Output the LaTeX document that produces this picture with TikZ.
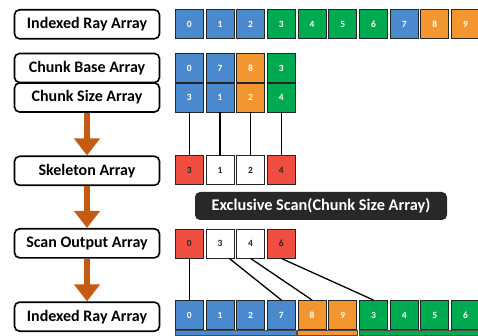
\documentclass[tikz,border=0pt]{standalone}
\usepackage{fontspec}
\setmainfont{Carlito}
\usetikzlibrary{arrows.meta,calc}
\definecolor{cblue}{RGB}{74,137,205}
\definecolor{cgreen}{RGB}{0,170,80}
\definecolor{corange}{RGB}{244,150,48}
\definecolor{cred}{RGB}{240,78,66}
\definecolor{carrow}{RGB}{197,90,17}
\definecolor{cdark}{RGB}{40,40,40}
\begin{document}
\begin{tikzpicture}[x=1pt,y=-1pt,
  cell/.style={draw=black!85, line width=0.9pt, minimum width=28pt, minimum height=29pt, inner sep=0pt, font=\bfseries\fontsize{9.5}{10}\selectfont, text=white},
  lab/.style={draw=black, line width=1.6pt, rounded corners=5pt, minimum width=145pt, minimum height=29pt, inner sep=0pt, font=\bfseries\fontsize{16}{18}\selectfont},
  link/.style={draw=black, line width=1.3pt},
  flow/.style={draw=carrow, line width=6pt, -{Triangle[width=25pt,length=17pt]}},
  bar/.style={draw=black!70, line width=0.6pt}]
\useasboundingbox (0,0) rectangle (478,336);
% label boxes
\node[lab] (L1) at (87,24.3) {Indexed Ray Array};
\node[lab] (L2) at (87,68) {Chunk Base Array};
\node[lab] (L3) at (87,97.5) {Chunk Size Array};
\node[lab] (L4) at (87,170.8) {Skeleton Array};
\node[lab] (L5) at (87,243.3) {Scan Output Array};
\node[lab] (L6) at (87,316.7) {Indexed Ray Array};
% top row
\foreach \v/\c [count=\i from 0] in {0/cblue,1/cblue,2/cblue,3/cgreen,4/cgreen,5/cgreen,6/cgreen,7/cblue,8/corange,9/corange}
  \node[cell, fill=\c] (t\i) at (189.25+30.7*\i,24.2) {\v};
% chunk base
\foreach \v/\c [count=\i from 0] in {0/cblue,7/cblue,8/corange,3/cgreen}
  \node[cell, fill=\c] (b\i) at (189.25+30.7*\i,68) {\v};
% chunk size
\foreach \v/\c [count=\i from 0] in {3/cblue,1/cblue,2/corange,4/cgreen}
  \node[cell, fill=\c] (c\i) at (189.25+30.7*\i,97.5) {\v};
% skeleton
\foreach \v/\c [count=\i from 0] in {3/cred,1/white,2/white,4/cred}
  \node[cell, fill=\c, text=black!85] (k\i) at (189.25+30.7*\i,170.3) {\v};
% scan output
\foreach \v/\c [count=\i from 0] in {0/cred,3/white,4/white,6/cred}
  \node[cell, fill=\c, text=black!85] (s\i) at (189.25+30.7*\i,243.5) {\v};
% bottom row
\foreach \v/\c [count=\i from 0] in {0/cblue,1/cblue,2/cblue,7/cblue,8/corange,9/corange,3/cgreen,4/cgreen,5/cgreen,6/cgreen}
  \node[cell, fill=\c] (r\i) at (189.25+30.7*\i,315) {\v};
% bars
\draw[bar, fill=cblue] ($(r0.south west)+(0,0.5)$) rectangle ($(r3.south east)+(0,5)$);
\draw[bar, fill=corange] ($(r4.south west)+(0,0.5)$) rectangle ($(r5.south east)+(0,5)$);
\draw[bar, fill=cgreen] ($(r6.south west)+(0,0.5)$) rectangle ($(r9.south east)+(0,5)$);
% scan label
\node[fill=cdark, rounded corners=5pt, minimum width=252pt, minimum height=28pt, inner sep=0pt, text=white, font=\bfseries\fontsize{16.3}{18}\selectfont] (ex) at (321,206) {Exclusive Scan(Chunk Size Array)};
% flow arrows
\draw[flow] (L3.south) -- (L4.north);
\draw[flow] (L4.south) -- (L5.north);
\draw[flow] (L5.south) -- (L6.north);
% links
\foreach \i in {0,1,2,3} \draw[link] (c\i.south) -- (k\i.north);
\draw[link] (s0.south) -- (r0.north);
\draw[link] ($(s1.south)!0.65!(s1.south east)$) -- (r3.north);
\draw[link] (s2.south) -- (r4.north);
\draw[link] (s3.south) -- (r6.north);
\end{tikzpicture}
\end{document}
